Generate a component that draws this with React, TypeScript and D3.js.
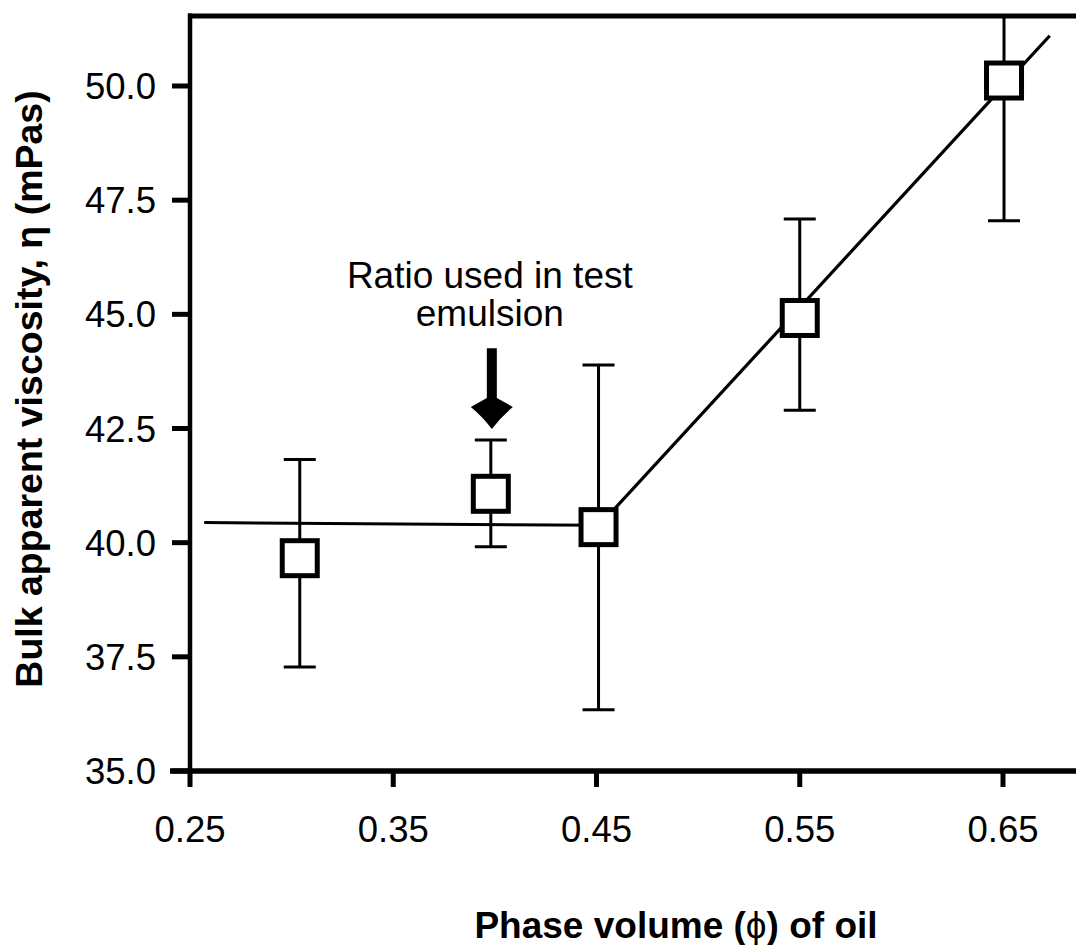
import React from "react";
import * as d3 from "d3";

const phi = [0.304, 0.398, 0.451, 0.55, 0.6505];
const viscosity = [39.66, 41.07, 40.34, 44.92, 50.12];
const errLow = [37.28, 39.91, 36.34, 42.9, 47.05];
const errHigh = [41.82, 42.25, 43.89, 47.09, 53.2];
const fitFlat: [number, number][] = [[0.257, 40.44], [0.451, 40.38]];
const fitRise: [number, number][] = [[0.451, 40.36], [0.673, 51.1]];
const xTicks = [0.25, 0.35, 0.45, 0.55, 0.65];
const yTicks = [35.0, 37.5, 40.0, 42.5, 45.0, 47.5, 50.0];
const annotationLines = ["Ratio used in test", "emulsion"];
const arrowPhi = 0.3985;
const arrowTop = 44.26;
const arrowTip = 42.49;

const W = 1076;
const H = 945;
const FONT = "'Liberation Sans', Arial, Helvetica, sans-serif";

export default function App() {
  const x = d3.scaleLinear().domain([0.25, 0.65]).range([190, 1003]);
  const y = d3.scaleLinear().domain([35, 50]).range([771, 86]);
  const line = d3
    .line<[number, number]>()
    .x((d) => x(d[0]))
    .y((d) => y(d[1]));

  const ax = x(arrowPhi);
  const aTop = y(arrowTop);
  const aTip = y(arrowTip);
  const arrowPath =
    `M${ax - 5},${aTop}L${ax + 5},${aTop}L${ax + 5},${aTip - 31}` +
    `L${ax + 21},${aTip - 22}` +
    `Q${ax + 9},${aTip - 12} ${ax},${aTip}` +
    `Q${ax - 9},${aTip - 12} ${ax - 21},${aTip - 22}` +
    `L${ax - 5},${aTip - 31}Z`;

  const plotTop = 16;
  const plotLeft = x(0.25);
  const plotBottom = y(35);

  return (
    <svg
      width={W}
      height={H}
      style={{ position: "absolute", left: 0, top: 0, display: "block", background: "#fff" }}
      fontFamily={FONT}
    >
      <defs>
        <clipPath id="plot">
          <rect x={plotLeft} y={plotTop} width={W - plotLeft} height={plotBottom - plotTop} />
        </clipPath>
      </defs>
      <rect x={0} y={0} width={W} height={H} fill="#fff" />

      <g clipPath="url(#plot)">
        <path d={line(fitFlat) || ""} fill="none" stroke="#000" strokeWidth={3} />
        <path d={line(fitRise) || ""} fill="none" stroke="#000" strokeWidth={3.2} />
        {phi.map((p, i) => (
          <g key={"e" + i} stroke="#000" strokeWidth={3}>
            <line x1={x(p)} x2={x(p)} y1={y(errLow[i])} y2={y(errHigh[i])} />
            <line x1={x(p) - 16} x2={x(p) + 16} y1={y(errLow[i])} y2={y(errLow[i])} />
            <line x1={x(p) - 16} x2={x(p) + 16} y1={y(errHigh[i])} y2={y(errHigh[i])} />
          </g>
        ))}
        {phi.map((p, i) => (
          <rect
            key={"m" + i}
            x={x(p) - 17.5}
            y={y(viscosity[i]) - 17.5}
            width={35}
            height={35}
            fill="#fff"
            stroke="#000"
            strokeWidth={5}
          />
        ))}
      </g>

      {/* frame */}
      <line x1={plotLeft} x2={plotLeft} y1={plotTop - 2.5} y2={plotBottom} stroke="#000" strokeWidth={4.5} />
      <line x1={plotLeft - 2} x2={W} y1={plotTop} y2={plotTop} stroke="#000" strokeWidth={5} />
      <line x1={170} x2={W} y1={plotBottom} y2={plotBottom} stroke="#000" strokeWidth={5.5} />

      {/* y ticks */}
      {yTicks.map((t) => (
        <g key={"yt" + t}>
          <line x1={172} x2={plotLeft} y1={y(t)} y2={y(t)} stroke="#000" strokeWidth={5} />
          <text x={156} y={y(t)} dy="0.36em" textAnchor="end" fontSize={36.5} fill="#000">
            {t.toFixed(1)}
          </text>
        </g>
      ))}

      {/* x ticks */}
      {xTicks.map((t) => (
        <g key={"xt" + t}>
          <line x1={x(t)} x2={x(t)} y1={plotBottom} y2={plotBottom + 16} stroke="#000" strokeWidth={5} />
          <text x={x(t)} y={842} textAnchor="middle" fontSize={36.5} fill="#000">
            {t.toFixed(2)}
          </text>
        </g>
      ))}

      {/* annotation */}
      {annotationLines.map((s, i) => (
        <text key={"a" + i} x={ax - 2} y={288 + i * 38} textAnchor="middle" fontSize={37} fill="#000">
          {s}
        </text>
      ))}
      <path d={arrowPath} fill="#000" />

      {/* axis titles */}
      <text
        transform={`translate(42,389) rotate(-90)`}
        textAnchor="middle"
        fontSize={37.5}
        fontWeight="bold"
        fill="#000"
      >
        Bulk apparent viscosity, η (mPas)
      </text>
      <text x={676} y={938} textAnchor="middle" fontSize={37} fontWeight="bold" fill="#000">
        Phase volume (<tspan fontWeight="normal">ϕ</tspan>) of oil
      </text>
    </svg>
  );
}
